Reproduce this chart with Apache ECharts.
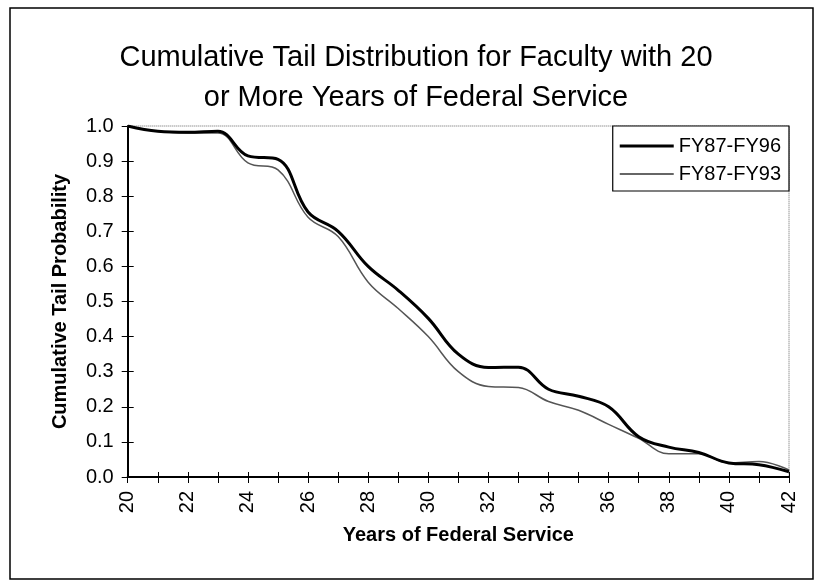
<!DOCTYPE html>
<html>
<head>
<meta charset="utf-8">
<script src="https://cdn.jsdelivr.net/npm/echarts@6/dist/echarts.min.js"></script>
<style>html,body{margin:0;padding:0;background:#fff}#c{width:817px;height:586px}</style>
</head>
<body>
<div id="c"></div>
<script>
var titleLines = ['Cumulative Tail Distribution for Faculty with 20', 'or More Years of Federal Service'];
var seriesNames = ['FY87-FY96', 'FY87-FY93'];
var years = [20,21,22,23,24,25,26,27,28,29,30,31,32,33,34,35,36,37,38,39,40,41,42];
var fy96 = [1.0,0.985,0.982,0.985,0.915,0.905,0.755,0.70,0.60,0.532,0.452,0.35,0.312,0.313,0.25,0.23,0.20,0.115,0.085,0.07,0.04,0.035,0.015];
var fy93 = [1.0,0.985,0.98,0.98,0.895,0.875,0.74,0.685,0.555,0.48,0.40,0.30,0.258,0.255,0.215,0.19,0.15,0.11,0.066,0.066,0.04,0.044,0.02];
var xTickLabels = ['20','22','24','26','28','30','32','34','36','38','40','42'];
var yTickLabels = ['0.0','0.1','0.2','0.3','0.4','0.5','0.6','0.7','0.8','0.9','1.0'];

function pairs(vals){ return years.map(function(y,i){ return [y, vals[i]]; }); }

var chart = echarts.init(document.getElementById('c'), null, {renderer:'canvas'});
var font = 'Liberation Sans, Arial, sans-serif';
chart.setOption({
  backgroundColor:'#fff',
  animation:false,
  textStyle:{fontFamily:font},
  title:{
    text: titleLines.join('\n'),
    left: 411, top: 33, textAlign:'center',
    textStyle:{fontFamily:font, fontSize:29, fontWeight:'normal', color:'#000', lineHeight:40}
  },
  graphic:[{type:'rect', shape:{x:10,y:8,width:803,height:571}, style:{fill:null, stroke:'#000', lineWidth:1.5}}],
  legend:{
    orient:'vertical', right:28, top:126,
    data: [
      {name:seriesNames[0], icon:'path://M0,0H54V3H0Z'},
      {name:seriesNames[1], icon:'path://M0,0H54V1.5H0Z'}
    ],
    symbolKeepAspect:true,
    itemWidth:54, itemHeight:14, itemGap:8,
    padding:[10,8,7,7],
    borderColor:'#000', borderWidth:1.2, backgroundColor:'#fff',
    textStyle:{fontFamily:font, fontSize:20, color:'#000'}
  },
  grid:{left:127.7, right:28, top:126, bottom:109, show:true, borderColor:'#666', borderWidth:1, borderType:'dotted', containLabel:false},
  xAxis:[{
    type:'value', min:20, max:42, interval:1, position:'bottom',
    name:'Years of Federal Service', nameLocation:'middle', nameGap:48,
    nameTextStyle:{fontFamily:font, fontSize:20, fontWeight:'bold', color:'#000'},
    axisLine:{show:true, lineStyle:{color:'#000', width:2}},
    axisTick:{show:true, inside:false, length:6, lineStyle:{color:'#000', width:1}},
    axisLabel:{rotate:90, margin:14, fontFamily:font, fontSize:20, color:'#000',
      formatter:function(v){ var s=String(v); return xTickLabels.indexOf(s)>=0 ? s : ''; }},
    splitLine:{show:false}
  },{
    type:'value', min:20, max:42, interval:1, position:'bottom',
    axisLine:{show:false},
    axisTick:{show:true, inside:true, length:5, lineStyle:{color:'#000', width:1}},
    axisLabel:{show:false}, splitLine:{show:false}
  }],
  yAxis:[{
    type:'value', min:0, max:1, interval:0.1, position:'left',
    name:'Cumulative Tail Probability', nameLocation:'middle', nameGap:57, nameRotate:90,
    nameTextStyle:{fontFamily:font, fontSize:20, fontWeight:'bold', color:'#000'},
    axisLine:{show:true, lineStyle:{color:'#000', width:2}},
    axisTick:{show:true, inside:false, length:6, lineStyle:{color:'#000', width:1}},
    axisLabel:{margin:14, fontFamily:font, fontSize:20, color:'#000',
      formatter:function(v){ return yTickLabels[Math.round(v*10)]; }},
    splitLine:{show:false}
  },{
    type:'value', min:0, max:1, interval:0.1, position:'left',
    axisLine:{show:false},
    axisTick:{show:true, inside:true, length:6, lineStyle:{color:'#000', width:1}},
    axisLabel:{show:false}, splitLine:{show:false}
  }],
  series:[{
    name:seriesNames[0], type:'line', xAxisIndex:0, yAxisIndex:0,
    data:pairs(fy96), smooth:0.4, symbol:'none',
    lineStyle:{color:'#000', width:3}, itemStyle:{color:'#000'}, z:3
  },{
    name:seriesNames[1], type:'line', xAxisIndex:0, yAxisIndex:0,
    data:pairs(fy93), smooth:0.4, symbol:'none',
    lineStyle:{color:'#555', width:1.5}, itemStyle:{color:'#333'}, z:2
  }]
});
</script>
</body>
</html>
